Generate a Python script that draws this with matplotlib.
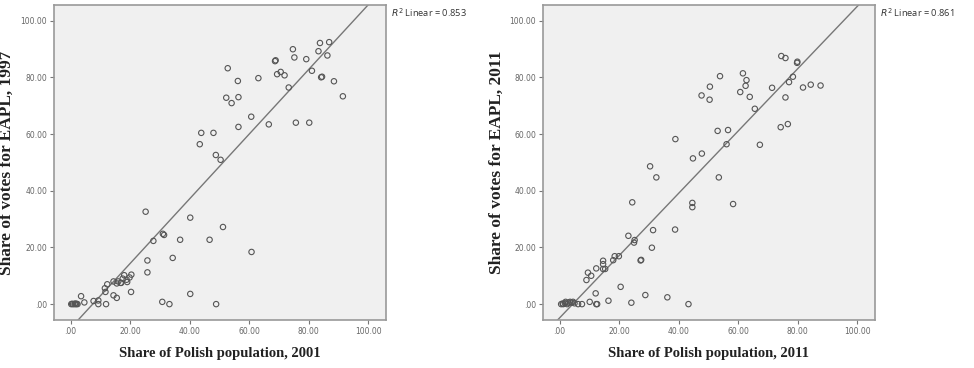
import numpy as np
import matplotlib
matplotlib.use("Agg")
import matplotlib.pyplot as plt

# ---- Left panel: Polish population 2001 vs EAPL votes 1997 ----
pop_2001 = [68.7, 68.9, 74.7, 75.2, 79.2, 83.8, 86.9, 83.3, 86.3, 52.8, 56.2, 63.1,
            69.4, 70.6, 71.9, 73.3, 81.1, 84.2, 84.5, 88.5, 91.5, 52.3, 54.1, 56.4,
            60.7, 56.4, 66.6, 75.7, 80.2, 43.9, 48.0, 43.4, 48.8, 50.4, 25.2, 40.2,
            51.2, 31.0, 31.4, 27.8, 36.8, 46.7, 60.8, 25.8, 34.3, 25.8, 40.2, 30.8,
            33.2, 48.9, 20.3, 14.4, 15.5, 11.9, 9.3, 9.3, 7.7, 3.5, 4.6,
            0.2, 0.8, 1.3, 1.8, 2.3, 0.5, 1.5, 2.0,
            11.5, 12.3, 14.4, 16.0, 17.0, 18.0, 18.8, 19.8, 20.4, 15.5, 16.8, 11.7,
            17.5, 19.0]
votes_1997 = [85.7, 86.0, 89.9, 87.0, 86.4, 92.1, 92.4, 89.2, 87.7, 83.2, 78.7, 79.7,
              81.1, 81.9, 80.7, 76.4, 82.3, 80.0, 80.2, 78.6, 73.3, 72.8, 70.9, 73.0,
              66.1, 62.5, 63.4, 64.0, 64.0, 60.4, 60.4, 56.4, 52.6, 50.9, 32.6, 30.5,
              27.2, 24.8, 24.4, 22.3, 22.7, 22.7, 18.4, 15.4, 16.3, 11.2, 3.6, 0.8,
              0.0, 0.0, 4.3, 3.1, 2.2, 0.0, 0.0, 1.3, 1.1, 2.8, 0.6,
              0.0, 0.0, 0.0, 0.0, 0.0, 0.1, 0.2, 0.1,
              5.6, 7.0, 8.0, 8.0, 7.5, 10.2, 8.6, 9.4, 10.4, 7.3, 7.5, 4.3,
              9.0, 7.8]
fit_left = (-8.45, 1.14)   # intercept, slope of the fit line as drawn
r2_left = "0.853"

# ---- Right panel: Polish population 2011 vs EAPL votes 2011 ----
pop_2011 = [53.9, 50.5, 47.7, 50.4, 61.6, 62.8, 62.5, 60.7, 63.9, 38.9, 53.1, 56.6,
            56.1, 47.8, 44.8, 30.4, 32.5, 53.5, 74.5, 75.9, 79.8, 79.9, 78.4, 77.1,
            71.4, 75.9, 81.8, 84.4, 87.7, 65.6, 74.3, 76.7, 67.3, 24.4, 44.6, 44.6,
            58.3, 31.4, 38.8, 23.1, 25.2, 25.0, 31.0, 27.2, 27.4, 18.5, 19.9, 18.0,
            14.6, 14.6, 14.6, 15.3, 12.3, 9.5, 10.6, 9.0, 20.5, 12.1, 28.8, 36.2,
            16.4, 10.1, 12.3, 12.6, 24.1, 43.3,
            0.5, 1.2, 1.8, 2.5, 3.0, 3.5, 4.0, 4.5, 5.0, 6.2, 7.5, 2.0, 1.0]
votes_2011 = [80.4, 76.7, 73.6, 72.1, 81.4, 79.0, 77.0, 74.8, 73.1, 58.2, 61.1, 61.4,
              56.4, 53.1, 51.4, 48.6, 44.7, 44.7, 87.5, 86.8, 85.1, 85.5, 80.2, 78.3,
              76.3, 72.9, 76.4, 77.4, 77.1, 68.9, 62.4, 63.5, 56.2, 35.9, 35.7, 34.2,
              35.3, 26.1, 26.3, 24.1, 22.6, 21.7, 19.9, 15.4, 15.6, 16.9, 16.9, 15.5,
              15.3, 14.1, 12.4, 12.4, 12.6, 11.1, 10.0, 8.5, 6.1, 3.8, 3.2, 2.4,
              1.2, 0.8, 0.0, 0.0, 0.5, 0.0,
              0.0, 0.0, 0.3, 0.0, 0.5, 0.8, 0.5, 0.8, 0.3, 0.0, 0.0, 0.8, 0.2]
fit_right = (-4.83, 1.098)
r2_right = "0.861"

ticks = [0, 20, 40, 60, 80, 100]
tick_labels = [".00", "20.00", "40.00", "60.00", "80.00", "100.00"]

panels = [
    dict(x=pop_2001, y=votes_1997, fit=fit_left, r2=r2_left,
         xlabel="Share of Polish population, 2001",
         ylabel="Share of votes for EAPL, 1997",
         rect=[54 / 974, 48 / 368, 332 / 974, 315 / 368], ylab_x=-0.118),
    dict(x=pop_2011, y=votes_2011, fit=fit_right, r2=r2_right,
         xlabel="Share of Polish population, 2011",
         ylabel="Share of votes for EAPL, 2011",
         rect=[543 / 974, 48 / 368, 332 / 974, 315 / 368], ylab_x=-0.115),
]

fig = plt.figure(figsize=(9.74, 3.68), dpi=100)
fig.patch.set_facecolor("white")

serif = ["Liberation Serif", "DejaVu Serif"]
for p in panels:
    ax = fig.add_axes(p["rect"])
    ax.set_facecolor("#f0f0f0")
    ax.set_xlim(-5.6, 106)
    ax.set_ylim(-5.6, 105.5)
    ax.scatter(p["x"], p["y"], s=15, facecolors="none", edgecolors="#555555",
               linewidths=0.8, zorder=3)
    ax.axline((0, p["fit"][0]), slope=p["fit"][1], color="#777777", lw=1.0, zorder=2)
    ax.set_xticks(ticks)
    ax.set_xticklabels(tick_labels)
    ax.set_yticks(ticks)
    ax.set_yticklabels(tick_labels)
    ax.tick_params(axis="both", direction="out", length=3, width=0.8,
                   colors="#777777", labelsize=5.5, labelcolor="#666666", pad=2)
    for s in ax.spines.values():
        s.set_color("#999999")
        s.set_linewidth(1.2)
    ax.set_xlabel(p["xlabel"], family=serif, fontweight="bold", fontsize=10.5,
                  color="#222222", labelpad=8)
    ax.set_ylabel(p["ylabel"], family=serif, fontweight="bold", fontsize=12.5,
                  color="#222222")
    ax.yaxis.set_label_coords(p["ylab_x"], 0.5)
    ax.text(1.015, 0.975, "$R^2$ Linear = " + p["r2"], transform=ax.transAxes,
            fontsize=6.7, color="#333333", va="center", ha="left",
            family=["Open Sans", "DejaVu Sans"])

fig.savefig("out.png", dpi=100, facecolor="white")
